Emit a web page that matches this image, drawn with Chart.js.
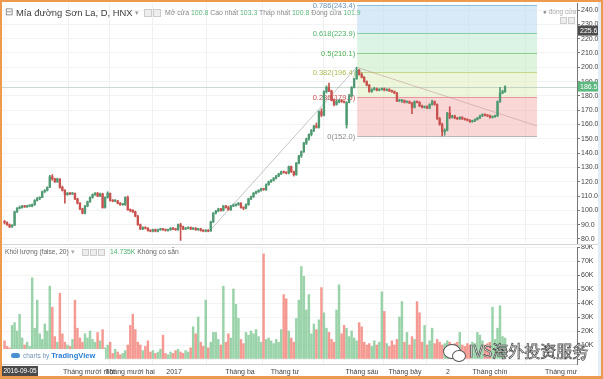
<!DOCTYPE html>
<html><head><meta charset="utf-8">
<script src="https://cdn.jsdelivr.net/npm/chart.js@4"></script>
<style>
body{margin:0;background:#fff;font-family:"Liberation Sans",Arial,sans-serif}
#wrap{position:relative;width:603px;height:379px;overflow:hidden;background:#fff}
canvas{position:absolute;left:0}
.t{position:absolute;white-space:nowrap;line-height:1}
.ib{position:absolute;width:6px;height:6px;border:1px solid #ccc;background:#eee}
</style></head><body>
<div id="wrap">
<canvas id="pc" width="603" height="245" style="top:0"></canvas>
<canvas id="vc" width="603" height="134" style="top:245px"></canvas>
<div style="position:absolute;left:0;top:244px;width:603px;height:1px;background:#d6d6d6"></div>

<div class="t" style="left:5px;top:7px;font-size:10px;color:#777">⊟</div>
<div class="t" style="left:16px;top:8px;font-size:9.4px;color:#3c3c3c">Mía đường Sơn La, D, HNX</div>
<div class="t" style="left:135px;top:9px;font-size:7px;color:#999">▾</div>
<div class="ib" style="left:144px;top:9px"></div><div class="ib" style="left:153px;top:9px"></div>
<div class="t" style="left:165px;top:10px;font-size:6.9px;color:#888">Mở cửa <span style="color:#5cb87f">100.8</span> Cao nhất <span style="color:#5cb87f">103.3</span> Thấp nhất <span style="color:#5cb87f">100.8</span> Đóng cửa <span style="color:#5cb87f">101.9</span></div>
<div class="t" style="left:543px;top:9px;font-size:6.5px;color:#aaa"><span style="color:#999">●</span> đóng cửa</div>
<div class="ib" style="left:560px;top:17px;width:5px;height:5px"></div><div class="ib" style="left:568px;top:17px;width:5px;height:5px"></div>

<div class="t" style="left:5px;top:249px;font-size:6.6px;color:#666">Khối lượng (false, 20) <span style="color:#aaa">▾</span></div>
<div class="ib" style="left:82px;top:249px;width:5px;height:5px"></div><div class="ib" style="left:90px;top:249px;width:5px;height:5px"></div><div class="ib" style="left:98px;top:249px;width:5px;height:5px"></div>
<div class="t" style="left:110px;top:249px;font-size:6.8px;color:#4caf6e">14.735K <span style="color:#666">Không có sẵn</span></div>

<div style="position:absolute;left:2px;top:349px;width:103px;height:14px;background:#fff"></div>
<div style="position:absolute;left:11px;top:353px;width:9px;height:5px;border-radius:3px;background:#4a90d0"></div>
<div class="t" style="left:23px;top:352px;font-size:6.5px;color:#6f93b8">charts by <b style="font-size:7.5px;color:#2a7fd4">TradingView</b></div>
<div class="t" style="left:2px;top:366px;width:36px;height:10px;background:#4a4a4a;color:#fff;font-size:6.5px;line-height:10px;text-align:center">2016-09-05</div>

<div style="position:absolute;left:443px;top:344px;width:16px;height:13px;border:1.5px solid #555;border-radius:50%;background:#fff"></div>
<div style="position:absolute;left:452px;top:350px;width:12px;height:10px;border:1.5px solid #555;border-radius:50%;background:#fff"></div>
<div class="t" style="left:469px;top:342px;font-size:16px;font-family:'Noto Sans CJK SC',sans-serif;color:#fff;-webkit-text-stroke:0.7px #444">IVS海外投资服务</div>

<div style="position:absolute;left:598px;top:2px;width:3px;height:374px;background:#e3edf7"></div>
<div style="position:absolute;left:0;top:0;width:603px;height:379px;box-sizing:border-box;border:2px solid #ee9a4e;border-bottom-width:3px;pointer-events:none"></div>
</div>
<script>
// ---- data ----
const open = [92,91.5,90,88.5,89.5,99,101.5,102,103,102.5,103,103,104,107,108.5,109,113,114,116,123.5,
122,120,122,116,114,111,112,111.5,112,108,105,101,98,103,106,109,111,112,110,111.5,
102,109,112,107,106.5,106.5,105,104,104,109,100.5,100,99,96,90,87,88,87.5,86,85.5,
86.5,85.5,86.5,87,86.5,86,86.5,87.5,87,86.5,90,88.5,87,87.5,88,87,87.5,86.5,87,86,
85.5,86,85.5,92,98,99.5,101,100,103,102,100.5,103,103.5,104,105,102,101.5,104,108,109.5,
112,113,114,115,114.5,118,120,121,122.5,124,125.5,127,126.5,126,130.5,127,125,133,138,141,
147,150,153,156,159,158,169,166.5,183,186,183.5,177,174,176,177,176,160,175.5,180,186,
192,198,195,193,190,187.5,183,184.5,185,184,184.5,185,184,184.5,183.5,183,182,176.5,176.5,177,
175.5,176,175,172,176,175.5,173,172,172.5,171.5,174,176,174,164,160,155,156,168,165,166,
164.5,164,165,164,163.5,163,162,162.5,163.5,164.5,166,167,166.5,166,165,165.5,166,176,182,183];
const high = [93,92,90.5,90,99.5,102,103,103.5,103.5,103.5,104,104.5,107.5,109,109.5,113.5,114.5,116.5,124.5,125,
122.5,122.5,122,117,114.5,112.5,112.5,112.5,112,108.5,105.5,101.5,103.5,106.5,109.5,111.5,112.5,112.5,112,112,
109.5,113,112,107.5,107.5,107,105.5,105,109.5,110,101,100.5,99.5,96.5,90.5,88.5,88.5,88,86.5,87,
87,87,87.5,87.5,87,87,88,88,87.5,90.5,91,89,88,88.5,88.5,88,88,87.5,87.5,86.5,
86.5,86.5,92.5,98.5,100,101.5,101.5,103.5,103.5,103,103.5,104.5,104.5,105.5,105.5,102.5,104.5,108.5,110,112.5,
113.5,114.5,115.5,115.5,118.5,120.5,121.5,123,124.5,126,127.5,127.5,127,131,131,127.5,133.5,138.5,141.5,147.5,
150.5,153.5,156.5,159.5,161,169.5,171,183.5,187,189,184,178,177,177.5,177.5,176.5,176,181,186.5,192.5,
200,198.5,196,193.5,190.5,188,185,186,185.5,185,185.5,185.5,185,185,184,183.5,182.5,177.5,177.5,177,
176.5,176.5,175.5,176.5,176.5,176,173.5,173,173,174.5,177,176.5,174.5,165,161,157,168.5,172.5,166.5,166.5,
165,165.5,165.5,164.5,164,163.5,163,164,165,166.5,167.5,167.5,167,166.5,166,166.5,176.5,186,184,187];
const low = [90.5,89.5,88,88,89.5,98.5,101,101.5,102,102,102.5,102.5,103.5,106.5,107.5,109,112.5,113.5,116,121,
119.5,119.5,115.5,113.5,105,110.5,111,111,107.5,104.5,100.5,97.5,97.5,102.5,105.5,108.5,110.5,109.5,109.5,101.5,
101.5,108.5,106.5,106,106,104.5,103.5,103.5,103.5,100,99,98.5,95.5,89.5,86.5,86.5,87,85.5,85,85,
85,85,86,86,85.5,85.5,86,86.5,86,86,79,86.5,86.5,87,86.5,86.5,86,86,85.5,85,
85,85,85.5,91.5,97.5,99,99.5,99.5,101.5,100,100,102.5,103,103.5,101.5,100.5,101,103.5,107.5,109,
111.5,112.5,113.5,114,114,117.5,119.5,120.5,122,123.5,125,126,125.5,125.5,126.5,124,124.5,132.5,137,140.5,
146,149,152,155,157.5,157.5,165.5,166,182,183,176.5,173,173.5,175,175.5,175,157.5,175,179.5,185.5,
191.5,194.5,192.5,189.5,187,182.5,182.5,184,183.5,183.5,184,183.5,183.5,183,182.5,181.5,176,176,175.5,175,
175,174.5,167.5,171.5,175,172.5,171.5,171.5,171,171,173.5,173.5,163.5,159.5,152,152.5,155.5,164,164.5,164,
163.5,163.5,163.5,163,162.5,161.5,161.5,162,163,164,165.5,166,165.5,164.5,164.5,165,165.5,175.5,181.5,182.5];
const close = [91.5,90,88.5,89.5,99,101.5,102,103,102.5,103,103,104,107,108.5,109,113,114,116,123.5,122,
120,122,116,114,111,112,111.5,112,108,105,101,98,103,106,109,111,112,110,111.5,102,
109,112,107,106.5,106.5,105,104,104,109,100.5,100,99,96,90,87,88,87.5,86,85.5,86.5,
85.5,86.5,87,86.5,86,86.5,87.5,87,86.5,90,88.5,87,87.5,88,87,87.5,86.5,87,86,85.5,
86,85.5,92,98,99.5,101,100,103,102,100.5,103,103.5,104,105,102,101.5,104,108,109.5,112,
113,114,115,114.5,118,120,121,122.5,124,125.5,127,126.5,126,130.5,127,125,133,138,141,147,
150,153,156,159,158,169,166.5,183,186,183.5,177,174,176,177,176,175.5,175.5,180,186,192,
198,195,193,190,187.5,183,184.5,185,184,184.5,185,184,184.5,183.5,183,182,176.5,177,177,175.5,
176,175,172,176,175.5,173,172,172.5,171.5,174,176,174,164,160,155,156,168,165,166,164.5,
164,165,164,163.5,163,162,162.5,163.5,164.5,166,167,166.5,166,165,165.5,166,176,182,183,186.5];
const volume = [13,9,8,24,26,20,32,15,10,12,9,58,22,42,18,14,25,20,52,37,
16,12,47,18,12,10,9,14,42,22,15,12,18,15,20,14,12,19,13,21,
8,10,12,4,7,5,3,4,6,10,24,32,21,12,10,6,9,13,5,6,
4,5,7,17,4,3,5,4,6,7,5,4,6,5,8,23,18,30,12,9,
42,8,12,19,19,14,10,52,12,18,15,50,39,29,14,11,19,17,20,18,
21,16,12,75,14,15,13,11,14,12,21,46,43,20,15,12,29,42,66,59,
35,46,18,25,21,28,51,33,22,19,14,12,35,53,18,24,22,16,20,15,
13,26,23,12,10,11,9,13,10,12,48,34,11,9,13,10,14,30,41,12,
19,10,16,14,41,33,12,24,10,13,22,11,14,12,10,11,13,12,10,11,
12,19,10,9,11,10,12,11,19,17,13,10,11,12,37,14,22,38,16,15];
const priceTicks = [80,90,100,110,120,130,140,150,160,170,180,190,200,210,220,230,240];
const volTicks = [0,10,20,30,40,50,60,70,80];
const monthLabels = ['Tháng mười một','Tháng mười hai','2017','Tháng ba','Tháng tư','Tháng sáu','Tháng bảy','2','Tháng chín','Tháng mư'];
const monthPos = [33.6,49.9,67.4,93.6,111.5,142.1,159.2,176.3,193.0,221.3];
const fibLevels = [0,0.236,0.382,0.5,0.618,0.786];
const fibPrices = [152.0,179.5,196.4,210.1,223.9,243.4];
const fibRange = [140.2,211.7];
const trendAx = [81.7,140], trendAy = [86,200];
const trendBx = [140,211.7], trendBy = [200,159];
const crossPrice = 225.6;

// ---- styles ----
const UP='#4f9a73', DN='#c8524e', VUP='rgba(120,196,140,0.75)', VDN='rgba(240,120,110,0.75)';
const fibFill=['rgba(242,160,160,0.42)','rgba(222,238,190,0.55)','rgba(200,236,196,0.6)','rgba(196,236,214,0.6)','rgba(190,220,242,0.6)'];
const fibLine=['#b5b5b5','#e59a9a','#c4d88a','#8fd08f','#86cfa6','#8ebbe0'];
const fibText=['#8a8a8a','#c8504c','#a9bd55','#4caf50','#52b36a','#6a93b8'];
const FONT='"Liberation Sans", Arial, sans-serif';
const N = close.length;
const idx = close.map((_,i)=>i);
const up = i => close[i] >= open[i];

const fibPlugin = {
  id:'fib',
  beforeDatasetsDraw(chart){
    const {ctx, scales:{x,y}, chartArea:a} = chart;
    const x0 = x.getPixelForValue(fibRange[0]), x1 = x.getPixelForValue(fibRange[1]);
    ctx.save();
    for(let k=0;k<fibPrices.length-1;k++){
      const ya=y.getPixelForValue(fibPrices[k]), yb=y.getPixelForValue(fibPrices[k+1]);
      ctx.fillStyle=fibFill[k]; ctx.fillRect(x0,yb,x1-x0,ya-yb);
    }
    ctx.lineWidth=1;
    fibPrices.forEach((p,k)=>{
      const yy=Math.round(y.getPixelForValue(p))+0.5;
      ctx.strokeStyle=fibLine[k]; ctx.beginPath(); ctx.moveTo(x0,yy); ctx.lineTo(x1,yy); ctx.stroke();
      ctx.fillStyle=fibText[k]; ctx.font='7.5px '+FONT; ctx.textAlign='right'; ctx.textBaseline='middle';
      ctx.fillText(String(fibLevels[k])+'('+p.toFixed(1)+')', x0-2, yy);
    });
    const yl=Math.round(y.getPixelForValue(close[N-1]))+0.5;
    ctx.strokeStyle='rgba(170,190,180,0.6)'; ctx.beginPath(); ctx.moveTo(a.left,yl); ctx.lineTo(a.right,yl); ctx.stroke();
    ctx.restore();
  },
  afterDraw(chart){
    const {ctx, scales:{y}, chartArea:a} = chart;
    ctx.save();
    const box=(v,bg)=>{
      const yy=y.getPixelForValue(v);
      ctx.fillStyle=bg; ctx.fillRect(a.right+1,yy-5,22,10);
      ctx.fillStyle='#fff'; ctx.font='7px '+FONT; ctx.textAlign='left'; ctx.textBaseline='middle';
      ctx.fillText(v.toFixed(1), a.right+3, yy+0.5);
    };
    box(crossPrice,'#4d4d4d');
    box(close[N-1],'#5cb87f');
    ctx.restore();
  }
};

const xCommon = {
  type:'linear', min:-1, max:227.6, offset:false,
  afterBuildTicks:s=>{ s.ticks = monthPos.map(v=>({value:v})); },
  grid:{color:'#f0f0f0', drawTicks:false},
};
const zeroPad = s=>{ s.paddingTop=0; s.paddingBottom=0; s.paddingLeft=0; s.paddingRight=0; };

new Chart(document.getElementById('pc'), {
  type:'bar',
  data:{datasets:[
    {type:'bar', data: idx.map(i=>({x:i,y:[open[i],close[i]]})), backgroundColor: idx.map(i=>up(i)?UP:DN), barThickness:1.7, grouped:false, minBarLength:1},
    {type:'bar', data: idx.map(i=>({x:i,y:[low[i],high[i]]})), backgroundColor: idx.map(i=>up(i)?UP:DN), barThickness:1, grouped:false},
    {type:'line', data: trendAx.map((v,k)=>({x:v,y:trendAy[k]})), borderColor:'rgba(150,150,150,0.55)', borderWidth:1, pointRadius:0},
    {type:'line', data: trendBx.map((v,k)=>({x:v,y:trendBy[k]})), borderColor:'rgba(190,150,150,0.55)', borderWidth:1, pointRadius:0}
  ]},
  options:{
    responsive:false, animation:false, events:[],
    layout:{padding:{top:3,bottom:2,left:2,right:3}},
    plugins:{legend:{display:false}, tooltip:{enabled:false}},
    scales:{
      x:Object.assign({}, xCommon, {ticks:{display:false}, border:{display:false}, afterFit:s=>{s.height=0; zeroPad(s);}}),
      y:{position:'right', min:77.2, max:244.9,
         afterBuildTicks:s=>{ s.ticks = priceTicks.map(v=>({value:v})); },
         afterFit:s=>{ s.width=23; zeroPad(s); },
         ticks:{callback:v=>v.toFixed(1), font:{size:7, family:FONT}, color:'#444', padding:1},
         grid:{color:'#f3f3f3', tickColor:'#777', tickLength:3},
         border:{display:true, color:'#777'}}
    }
  },
  plugins:[fibPlugin]
});

new Chart(document.getElementById('vc'), {
  type:'bar',
  data:{datasets:[
    {data: idx.map(i=>({x:i,y:volume[i]})), backgroundColor: idx.map(i=>up(i)?VUP:VDN), barThickness:1.8}
  ]},
  options:{
    responsive:false, animation:false, events:[],
    layout:{padding:{top:2,bottom:3,left:2,right:3}},
    plugins:{legend:{display:false}, tooltip:{enabled:false}},
    scales:{
      x:Object.assign({}, xCommon, {
        afterFit:s=>{s.height=12; zeroPad(s);},
        ticks:{autoSkip:false, maxRotation:0, padding:4, font:{size:7, family:FONT}, color:'#444', callback:(v,i)=>monthLabels[i]},
        border:{display:true, color:'#cfcfcf'}}),
      y:{position:'right', min:-3.57, max:80,
         afterBuildTicks:s=>{ s.ticks = volTicks.map(v=>({value:v})); },
         afterFit:s=>{ s.width=23; zeroPad(s); },
         ticks:{callback:v=>v===0?'0':v+'K', font:{size:7, family:FONT}, color:'#444', padding:1},
         grid:{color:'#f3f3f3', tickColor:'#777', tickLength:3},
         border:{display:true, color:'#777'}}
    }
  }
});
</script>
</body></html>
